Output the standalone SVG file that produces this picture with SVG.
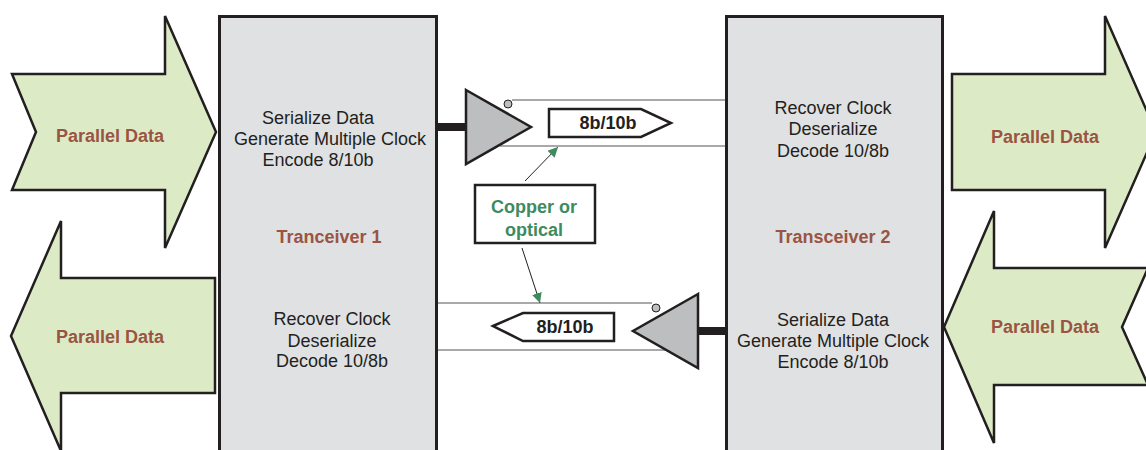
<svg xmlns="http://www.w3.org/2000/svg" width="1146" height="450" viewBox="0 0 1146 450">
<defs>
<style>
.arrow{fill:#dcebc6;stroke:#231f20;stroke-width:2.5;stroke-linejoin:miter}
.box{fill:#e0e1e3;stroke:#231f20;stroke-width:3}
.pd{font-family:"Liberation Sans",Arial,sans-serif;font-weight:bold;font-size:18px;fill:#9a5443;text-anchor:middle}
.t{font-family:"Liberation Sans",Arial,sans-serif;font-size:18px;fill:#231f20;text-anchor:middle}
.tl{font-family:"Liberation Sans",Arial,sans-serif;font-weight:bold;font-size:18px;fill:#9a5443;text-anchor:middle}
.buf{fill:#bcbec0;stroke:#231f20;stroke-width:2.5;stroke-linejoin:miter}
.wire{stroke:#8c8c8c;stroke-width:1.5;fill:none}
.thick{stroke:#231f20;stroke-width:8}
.lbl{fill:#ffffff;stroke:#231f20;stroke-width:2.5}
.lt{font-family:"Liberation Sans",Arial,sans-serif;font-weight:bold;font-size:18px;fill:#231f20;text-anchor:middle}
.cop{font-family:"Liberation Sans",Arial,sans-serif;font-weight:bold;font-size:18px;fill:#3d8b5e;text-anchor:middle}
.circ{fill:#bcbec0;stroke:#231f20;stroke-width:1}
.call{stroke:#231f20;stroke-width:1;fill:none}
</style>
<marker id="gh" viewBox="0 0 10 10" refX="10" refY="5" markerWidth="10" markerHeight="10" markerUnits="userSpaceOnUse" orient="auto">
<path d="M0,0 L10,5 L0,10 z" fill="#3d8b5e"/>
</marker>
</defs>

<g id="arrow-tl">
<polygon class="arrow" points="12,74 165,74 165,16 216,132 165,248 165,190 12,190 36,132"/>
<text class="pd" x="110" y="142">Parallel Data</text>
</g>
<g id="arrow-bl">
<polygon class="arrow" points="11,336 61,221 61,278 215,278 215,393 61,393 61,451"/>
<text class="pd" x="110" y="343">Parallel Data</text>
</g>
<g id="arrow-tr">
<polygon class="arrow" points="952,74 1105,74 1105,16 1156,132 1105,248 1105,190 952,190"/>
<text class="pd" x="1045" y="143">Parallel Data</text>
</g>
<g id="arrow-br">
<polygon class="arrow" points="944,327 994,211 994,268 1148,268 1122,327 1148,385 994,385 994,443"/>
<text class="pd" x="1045" y="333">Parallel Data</text>
</g>

<g id="transceiver1">
<rect class="box" x="219.5" y="16.5" width="217" height="440"/>
<text class="t" x="318" y="124">Serialize Data</text>
<text class="t" x="330" y="145">Generate Multiple Clock</text>
<text class="t" x="318" y="166">Encode 8/10b</text>
<text class="tl" x="329" y="243">Tranceiver 1</text>
<text class="t" x="332" y="325">Recover Clock</text>
<text class="t" x="332" y="347">Deserialize</text>
<text class="t" x="332" y="367">Decode 10/8b</text>
</g>

<g id="transceiver2">
<rect class="box" x="726.5" y="16.5" width="216" height="440"/>
<text class="t" x="833" y="114">Recover Clock</text>
<text class="t" x="833" y="135">Deserialize</text>
<text class="t" x="833" y="157">Decode 10/8b</text>
<text class="tl" x="833" y="243">Transceiver 2</text>
<text class="t" x="833" y="326">Serialize Data</text>
<text class="t" x="833" y="347">Generate Multiple Clock</text>
<text class="t" x="833" y="368">Encode 8/10b</text>
</g>

<g id="connectors">
<line class="thick" x1="438" y1="127" x2="467" y2="127"/>
<line class="wire" x1="512" y1="100" x2="725" y2="100"/>
<line class="wire" x1="500" y1="146" x2="725" y2="146"/>
<line class="thick" x1="697" y1="331" x2="725" y2="331"/>
<line class="wire" x1="438" y1="303" x2="652" y2="303"/>
<line class="wire" x1="438" y1="350" x2="665" y2="350"/>
<line class="call" x1="525" y1="181" x2="558" y2="147" marker-end="url(#gh)"/>
<line class="call" x1="522" y1="248" x2="540" y2="303" marker-end="url(#gh)"/>
</g>

<g id="driver-top">
<polygon class="buf" points="466,90 531,127 466,164"/>
<circle class="circ" cx="508" cy="104" r="4"/>
</g>
<g id="driver-bottom">
<polygon class="buf" points="698,294 633,331 698,368"/>
<circle class="circ" cx="656" cy="308" r="4"/>
</g>

<g id="label-top">
<polygon class="lbl" points="549,109 641,109 671,123 641,137 549,137"/>
<text class="lt" x="608" y="129">8b/10b</text>
</g>
<g id="label-bottom">
<polygon class="lbl" points="493,326 523,313 614,313 614,341 523,341"/>
<text class="lt" x="565" y="333">8b/10b</text>
</g>

<g id="medium">
<rect class="lbl" x="475" y="185" width="120" height="58"/>
<text class="cop" x="534" y="213">Copper or</text>
<text class="cop" x="534" y="236">optical</text>
</g>
</svg>
